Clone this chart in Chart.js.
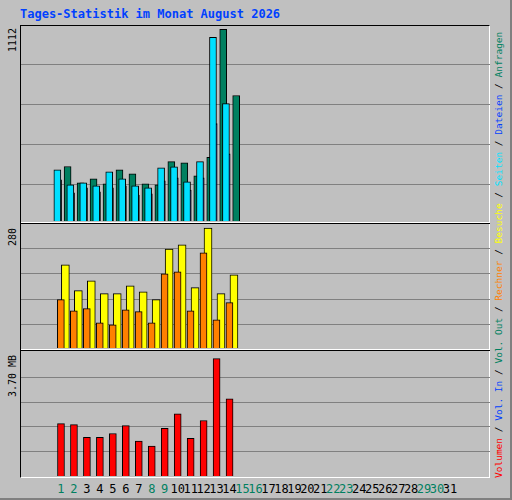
<!DOCTYPE html>
<html>
<head>
<meta charset="utf-8">
<script src="https://cdn.jsdelivr.net/npm/chart.js@4/dist/chart.umd.min.js"></script>
<style>
  body { margin: 0; background: #fff; }
  #frame { position: absolute; left: 0; top: 0; width: 510px; height: 498px; background: #c0c0c0;
           border-right: 2px solid #808080; border-bottom: 2px solid #808080; }
  .txt { position: absolute; font-family: "DejaVu Sans Mono", monospace; font-size: 12px; white-space: nowrap; }
  .rot { transform-origin: 0 0; transform: rotate(-90deg); font-size: 10px; }
  canvas { position: absolute; }
  #plot { position: absolute; left: 20px; top: 25px; width: 470px; height: 453px;
          border-top: 1px solid #000; border-left: 1px solid #000;
          border-right: 1px solid #fff; border-bottom: 1px solid #fff; box-sizing: border-box; }
  .sep { position: absolute; left: 21px; width: 469px; height: 1px; }
</style>
</head>
<body>
<div id="frame">
  <div class="txt" style="left:20px;top:7px;color:#0040ff;font-weight:bold;">Tages-Statistik im Monat August 2026</div>
  <div id="plot"></div>
  <div class="sep" style="top:222px;background:#fff"></div>
  <div class="sep" style="top:223px;background:#000"></div>
  <div class="sep" style="top:349px;background:#fff"></div>
  <div class="sep" style="top:350px;background:#000"></div>
  <canvas id="c1" style="left:21px;top:26px;width:469px;height:195px" width="469" height="195"></canvas>
  <canvas id="c2" style="left:21px;top:225px;width:469px;height:123px" width="469" height="123"></canvas>
  <canvas id="c3" style="left:21px;top:352px;width:469px;height:124px" width="469" height="124"></canvas>
  <div class="txt rot" style="left:7px;top:52px;">1112</div>
  <div class="txt rot" style="left:7px;top:246px;">280</div>
  <div class="txt rot" style="left:7px;top:397px;">3.70 MB</div>
  <div class="txt rot" style="left:493px;top:478px;font-size:9.5px;"><span style="color:#ff0000">Volumen</span> / <span style="color:#0040ff">Vol. In</span> / <span style="color:#008060">Vol. Out</span> / <span style="color:#ff8000">Rechner</span> / <span style="color:#ffff00">Besuche</span> / <span style="color:#00e0ff">Seiten</span> / <span style="color:#0040ff">Dateien</span> / <span style="color:#008060">Anfragen</span></div>
  <div id="days"></div>
</div>
<script>
// Data (days 1..14 of August 2026)
const days = Array.from({ length: 31 }, (_, i) => i + 1);
const weekendDays = [1, 2, 8, 9, 15, 16, 22, 23, 29, 30];
const anfragen = [316, 221, 245, 215, 297, 274, 215, 210, 344, 338, 262, 369, 1112, 728];
const dateien  = [297, 210, 221, 204, 285, 245, 204, 192, 309, 314, 227, 344, 1065, 681];
const seiten   = [239, 163, 192, 169, 192, 204, 151, 157, 233, 250, 180, 250, 565, 390];
const besuche  = [194, 134, 157, 127, 127, 145, 131, 113, 231, 241, 141, 280, 127, 171];
const rechner  = [113, 87, 92, 59, 54, 89, 85, 59, 173, 178, 87, 222, 66, 106];
const volumenMB = [1.65, 1.62, 1.22, 1.22, 1.34, 1.59, 1.10, 0.94, 1.50, 1.96, 1.19, 1.75, 3.70, 2.43];

const gridTop = [209, 441, 673, 905];
const gridMid = [56, 114, 173, 231];
const gridBot = [0.76, 1.55, 2.33, 3.12];

const pts = (vals, off) => vals.map((v, i) => ({ x: days[i] + off, y: v }));

const bar = (label, vals, off, color, width) => ({
  label, data: pts(vals, off), backgroundColor: color, borderColor: '#000',
  borderWidth: 1, borderSkipped: 'bottom', barThickness: width,
});

const makeChart = (id, datasets, yMax, grid) => new Chart(document.getElementById(id), {
  type: 'bar',
  data: { datasets },
  options: {
    responsive: false,
    animation: false,
    layout: { padding: 0 },
    plugins: { legend: { display: false }, tooltip: { enabled: false } },
    scales: {
      x: { type: 'linear', min: 0.5, max: 31.5, display: false },
      y: {
        min: 0, max: yMax,
        afterBuildTicks: s => { s.ticks = grid.map(v => ({ value: v })); },
        ticks: { display: false },
        grid: { color: '#808080', lineWidth: 1, drawTicks: false },
        border: { display: false },
      },
    },
  },
});

// first dataset is drawn on top
const hitsChart = makeChart('c1', [
  bar('Dateien', dateien, 0.26, '#00e0ff', 7),
  bar('Seiten', seiten, -0.03, '#0040ff', 2),
  bar('Anfragen', anfragen, -0.03, '#008060', 7),
], 1131, gridTop);

makeChart('c2', [
  bar('Rechner', rechner, 0.26, '#ff8000', 7),
  bar('Besuche', besuche, 0.03, '#ffff00', 8),
], 287, gridMid);

makeChart('c3', [
  bar('Volumen', volumenMB, 0, '#ff0000', 7),
], 3.91, gridBot);

// day labels placed through the x scale
const box = document.getElementById('days');
days.forEach(d => {
  const el = document.createElement('div');
  el.className = 'txt';
  el.textContent = d;
  el.style.color = weekendDays.includes(d) ? '#008060' : '#000';
  el.style.top = '482px';
  el.style.width = '30px';
  el.style.textAlign = 'center';
  el.style.left = (21 + hitsChart.scales.x.getPixelForValue(d) - 15) + 'px';
  box.appendChild(el);
});
</script>
</body>
</html>
